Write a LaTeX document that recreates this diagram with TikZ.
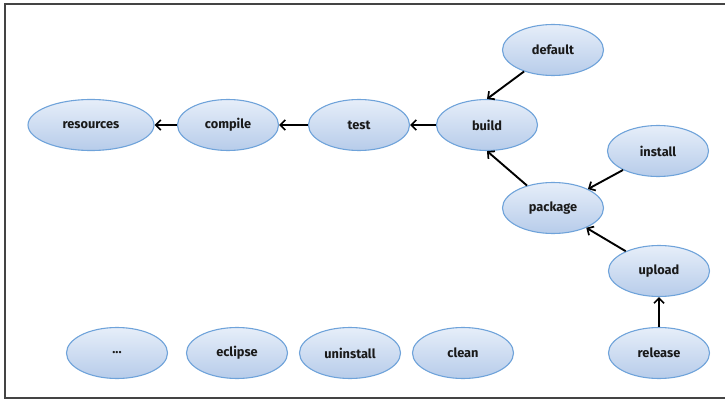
\documentclass[tikz,border=0pt]{standalone}
\usepackage{fontspec}
\setmainfont{Fira Sans}
\usetikzlibrary{shapes.geometric,arrows.meta}
\definecolor{nodeline}{HTML}{6FA3DA}
\definecolor{nodetop}{HTML}{E6EEF9}
\definecolor{nodebot}{HTML}{B7CCEA}
\definecolor{frame}{HTML}{444444}
\definecolor{txt}{HTML}{1A1A1A}
\begin{document}
\begin{tikzpicture}[x=1pt,y=-1pt,
  task/.style={ellipse, draw=nodeline, line width=1.1pt, top color=nodetop, bottom color=nodebot,
    minimum width=101pt, minimum height=51pt, inner sep=0pt,
    font=\fontsize{12.8}{14}\selectfont\bfseries, text=txt},
  dep/.style={-{Straight Barb[length=5pt,width=10pt,line width=1.7pt]}, line width=1.9pt, black}]
\useasboundingbox (0,0) rectangle (725,401);
\draw[frame, line width=1.8pt] (725,4) -- (5,4) -- (5,398) -- (725,398);
\node[task, minimum width=126pt] (resources) at (91,125) {resources};
\node[task] (compile) at (228,125) {compile};
\node[task] (test) at (359,125) {test};
\node[task] (build) at (487,125) {build};
\node[task] (default) at (553,50) {default};
\node[task] (install) at (658,151) {install};
\node[task] (package) at (553,208) {package};
\node[task] (upload) at (659,271) {upload};
\node[task] (release) at (659,353) {release};
\node[task] (dots) at (117,353) {...};
\node[task] (eclipse) at (237,353) {eclipse};
\node[task] (uninstall) at (350,353) {uninstall};
\node[task] (clean) at (463,353) {clean};
\draw[dep] (compile) -- (resources);
\draw[dep] (test) -- (compile);
\draw[dep] (build) -- (test);
\draw[dep] (default) -- (build.north);
\draw[dep] (package) -- (build.south);
\draw[dep] (install) -- (package);
\draw[dep] (upload) -- (package);
\draw[dep] (release) -- (upload);
\end{tikzpicture}
\end{document}
